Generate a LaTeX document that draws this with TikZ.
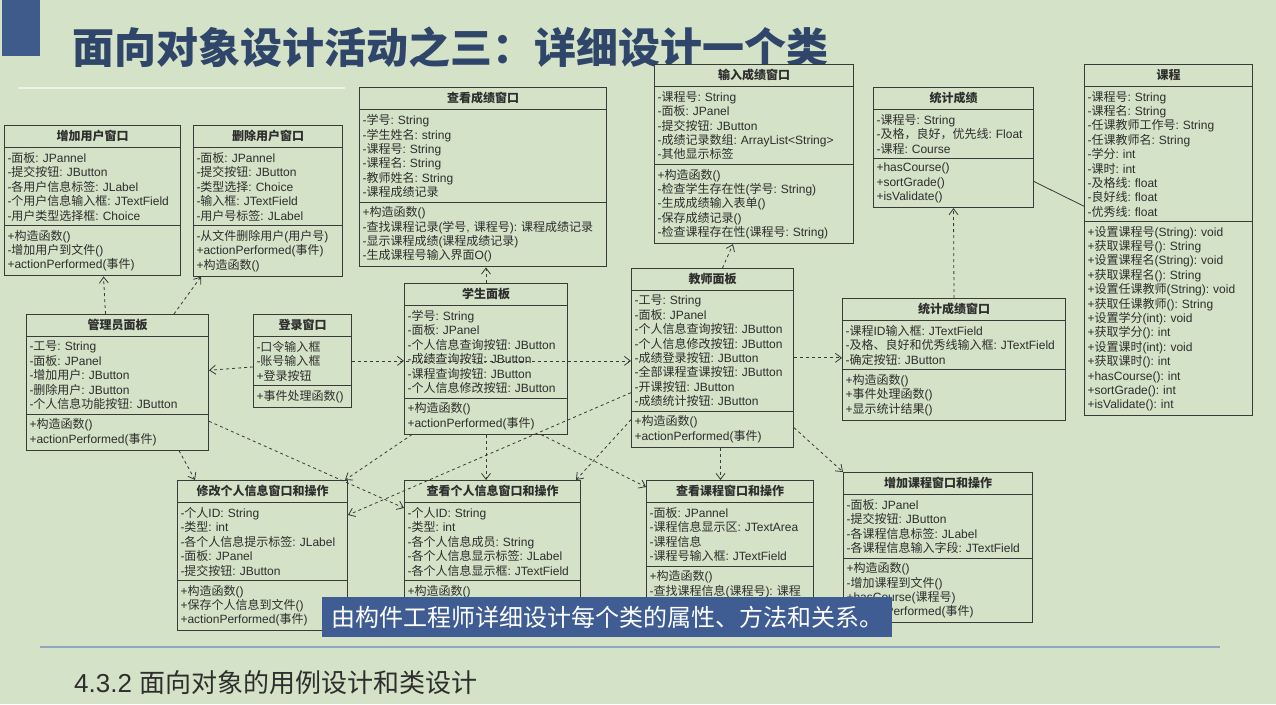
\documentclass[tikz,border=0pt]{standalone}
\usepackage{fontspec}
\setmainfont{Liberation Sans}
\newfontfamily\cjkfont{Noto Sans CJK SC}
\newfontfamily\latinfont{Liberation Sans}
\usepackage{xcolor}
\usepackage{tikz}
\usetikzlibrary{calc,positioning,shapes.multipart,arrows.meta}

% switch to the CJK face for Chinese characters
\newXeTeXintercharclass\cjkcls
\newcount\cjkc
\cjkc="21 \loop\ifnum\cjkc<"7F \XeTeXcharclass\cjkc=0 \advance\cjkc by 1 \repeat
\cjkc="3000 \loop\ifnum\cjkc<"3040 \XeTeXcharclass\cjkc=\cjkcls \advance\cjkc by 1 \repeat
\cjkc="4E00 \loop\ifnum\cjkc<"A000 \XeTeXcharclass\cjkc=\cjkcls \advance\cjkc by 1 \repeat
\cjkc="FF00 \loop\ifnum\cjkc<"FFF0 \XeTeXcharclass\cjkc=\cjkcls \advance\cjkc by 1 \repeat
\XeTeXinterchartoks 0 \cjkcls={\cjkfont}
\XeTeXinterchartoks 4095 \cjkcls={\cjkfont}
\XeTeXinterchartoks \cjkcls 0={\latinfont}
\XeTeXinterchartoks \cjkcls 4095={\latinfont}
\XeTeXinterchartokenstate=1
\frenchspacing

\definecolor{bg}{HTML}{D4E2C7}
\definecolor{navy}{HTML}{2F4569}
\definecolor{barblue}{HTML}{3E5B8C}
\definecolor{boxline}{HTML}{3A3A3A}
\definecolor{boxtext}{HTML}{2E2E2E}
\definecolor{banner}{HTML}{3F5D93}
\definecolor{footrule}{HTML}{93A6C0}

\newcommand{\boxfont}{\fontsize{12pt}{14.4pt}\selectfont}
\newcommand{\ttl}[1]{\hfill\rule[-3pt]{0pt}{12pt}\textbf{#1}\hfill\null}

\tikzset{
  cls/.style={rectangle split, rectangle split parts=3, draw=boxline, fill=bg,
    line width=1pt, anchor=north west, inner xsep=3pt, inner ysep=4pt,
    align=left, font=\boxfont, text=boxtext},
  dep/.style={draw=boxline, line width=0.8pt, dash pattern=on 3pt off 3pt,
    -{Straight Barb[length=6pt,width=9pt]}},
  assoc/.style={draw=boxline, line width=0.8pt}
}

\begin{document}
\begin{tikzpicture}[x=1pt,y=-1pt]
\useasboundingbox (0,0) rectangle (1276,704);
\fill[bg] (0,0) rectangle (1276,704);

%%heading
\fill[barblue] (2,0) rectangle (40,56);
\node[anchor=base west, inner sep=0, text=navy,
  font=\fontsize{42pt}{42pt}\selectfont\bfseries] (title) at (72,63)
  {面向对象设计活动之三：详细设计一个类};
\draw[white!55!bg, line width=1.5pt] (18,88) -- (345,88);

%%windows, top row
\node[cls, text width=170pt] (addUser) at (4,125) {\ttl{增加用户窗口}
  \nodepart{two}-面板: JPannel\\-提交按钮: JButton\\-各用户信息标签: JLabel\\-个用户信息输入框: JTextField\\-用户类型选择框: Choice
  \nodepart{three}+构造函数()\\-增加用户到文件()\\+actionPerformed(事件)};
\node[cls, text width=143pt] (delUser) at (193,125) {\ttl{删除用户窗口}
  \nodepart{two}-面板: JPannel\\-提交按钮: JButton\\-类型选择: Choice\\-输入框: JTextField\\-用户号标签: JLabel
  \nodepart{three}-从文件删除用户(用户号)\\+actionPerformed(事件)\\+构造函数()};
\node[cls, text width=241pt] (viewScore) at (359,87) {\ttl{查看成绩窗口}
  \nodepart{two}-学号: String\\-学生姓名: string\\-课程号: String\\-课程名: String\\-教师姓名: String\\-课程成绩记录
  \nodepart{three}+构造函数()\\-查找课程记录(学号, 课程号): 课程成绩记录\\-显示课程成绩(课程成绩记录)\\-生成课程号输入界面O()};
\node[cls, text width=193pt] (inputScore) at (654,64) {\ttl{输入成绩窗口}
  \nodepart{two}-课程号: String\\-面板: JPanel\\-提交按钮: JButton\\-成绩记录数组: ArrayList<String>\\-其他显示标签
  \nodepart{three}+构造函数()\\-检查学生存在性(学号: String)\\-生成成绩输入表单()\\-保存成绩记录()\\-检查课程存在性(课程号: String)};
\node[cls, text width=154pt] (stat) at (873,87) {\ttl{统计成绩}
  \nodepart{two}-课程号: String\\-及格，良好，优先线: Float\\-课程: Course
  \nodepart{three}+hasCourse()\\+sortGrade()\\+isValidate()};
\node[cls, text width=162pt] (course) at (1084,64) {\ttl{课程}
  \nodepart{two}-课程号: String\\-课程名: String\\-任课教师工作号: String\\-任课教师名: String\\-学分: int\\-课时: int\\-及格线: float\\-良好线: float\\-优秀线: float
  \nodepart{three}+设置课程号(String): void\\+获取课程号(): String\\+设置课程名(String): void\\+获取课程名(): String\\+设置任课教师(String): void\\+获取任课教师(): String\\+设置学分(int): void\\+获取学分(): int\\+设置课时(int): void\\+获取课时(): int\\+hasCourse(): int\\+sortGrade(): int\\+isValidate(): int};

%%panels, middle row
\node[cls, text width=176pt] (adm) at (26,314) {\ttl{管理员面板}
  \nodepart{two}-工号: String\\-面板: JPanel\\-增加用户: JButton\\-删除用户: JButton\\-个人信息功能按钮: JButton
  \nodepart{three}+构造函数()\\+actionPerformed(事件)};
\node[cls, text width=92pt] (login) at (253,314) {\ttl{登录窗口}
  \nodepart{two}-口令输入框\\-账号输入框\\+登录按钮
  \nodepart{three}+事件处理函数()};
\node[cls, text width=157pt] (stu) at (404,283) {\ttl{学生面板}
  \nodepart{two}-学号: String\\-面板: JPanel\\-个人信息查询按钮: JButton\\-成绩查询按钮: JButton\\-课程查询按钮: JButton\\-个人信息修改按钮: JButton
  \nodepart{three}+构造函数()\\+actionPerformed(事件)};
\node[cls, text width=156pt] (tea) at (631,268) {\ttl{教师面板}
  \nodepart{two}-工号: String\\-面板: JPanel\\-个人信息查询按钮: JButton\\-个人信息修改按钮: JButton\\-成绩登录按钮: JButton\\-全部课程查课按钮: JButton\\-开课按钮: JButton\\-成绩统计按钮: JButton
  \nodepart{three}+构造函数()\\+actionPerformed(事件)};
\node[cls, text width=217pt] (statWin) at (842,298) {\ttl{统计成绩窗口}
  \nodepart{two}-课程ID输入框: JTextField\\-及格、良好和优秀线输入框: JTextField\\-确定按钮: JButton
  \nodepart{three}+构造函数()\\+事件处理函数()\\+显示统计结果()};

%%windows, bottom row
\node[cls, text width=164pt] (modInfo) at (177,480) {\ttl{修改个人信息窗口和操作}
  \nodepart{two}-个人ID: String\\-类型: int\\-各个人信息提示标签: JLabel\\-面板: JPanel\\-提交按钮: JButton
  \nodepart{three}+构造函数()\\+保存个人信息到文件()\\+actionPerformed(事件)};
\node[cls, text width=170pt] (viewInfo) at (404,480) {\ttl{查看个人信息窗口和操作}
  \nodepart{two}-个人ID: String\\-类型: int\\-各个人信息成员: String\\-各个人信息显示标签: JLabel\\-各个人信息显示框: JTextField
  \nodepart{three}+构造函数()\\\strut\\\strut};
\node[cls, text width=161pt] (viewCourse) at (646,480) {\ttl{查看课程窗口和操作}
  \nodepart{two}-面板: JPannel\\-课程信息显示区: JTextArea\\-课程信息\\-课程号输入框: JTextField
  \nodepart{three}+构造函数()\\-查找课程信息(课程号): 课程\\\strut\\\strut};
\node[cls, text width=183pt] (addCourse) at (843,472) {\ttl{增加课程窗口和操作}
  \nodepart{two}-面板: JPanel\\-提交按钮: JButton\\-各课程信息标签: JLabel\\-各课程信息输入字段: JTextField
  \nodepart{three}+构造函数()\\-增加课程到文件()\\+hasCourse(课程号)\\+actionPerformed(事件)};

%%links
\draw[dep] ([xshift=-12pt]adm.north) -- ([xshift=11pt]addUser.south);
\draw[dep] ([xshift=-35pt]adm.north east) -- ([xshift=8pt]delUser.south west);
\draw[dep] ([yshift=-6pt]login.west) -- ([yshift=12pt]adm.east);
\draw[dep] (login.east) -- (login.east -| stu.west);
\draw[dep] (login.east) -- (login.east -| tea.west);
\draw[dep] (stu.north) -- (stu.north |- viewScore.south);
\draw[dep] ([xshift=10pt]tea.north) -- ([xshift=-21pt]inputScore.south);
\draw[dep] (tea.east) -- (tea.east -| statWin.west);
\draw[dep] (statWin.north) -- (stat.south);
\draw[assoc] ([yshift=-34pt]stat.east) -- ([yshift=34pt]course.west);
\draw[dep] ([xshift=-30pt]adm.south east) -- ([xshift=18pt]modInfo.north west);
\draw[dep] ([yshift=-39pt]adm.east) -- ([yshift=-28pt]viewInfo.north west);
\draw[dep] ([xshift=8pt]stu.south west) -- ([xshift=-3pt]modInfo.north east);
\draw[dep] (stu.south) -- (stu.south |- viewInfo.north);
\draw[dep] ([xshift=-27pt]stu.south east) -- ([yshift=-7pt]viewCourse.north west);
\draw[dep] ([yshift=55pt]tea.south west) -- ([yshift=-35pt]modInfo.north east);
\draw[dep] ([yshift=28pt]tea.south west) -- ([xshift=-5pt]viewInfo.north east);
\draw[dep] ([xshift=8pt]tea.south) -- ([xshift=8pt]tea.south |- viewCourse.north);
\draw[dep] ([yshift=20pt]tea.south east) -- (addCourse.north west);

%%banner and footer
\node[fill=banner, anchor=north west, minimum width=570pt, minimum height=40pt,
  inner sep=0, text=white, font=\fontsize{24pt}{24pt}\selectfont] (note) at (322,597)
  {由构件工程师详细设计每个类的属性、方法和关系。};
\draw[footrule, line width=1.2pt] (40,647) -- (1220,647);
\node[anchor=base west, inner sep=0, text=boxtext, font=\fontsize{26pt}{26pt}\selectfont]
  (foot) at (74,692) {4.3.2 面向对象的用例设计和类设计};
\end{tikzpicture}
\end{document}
